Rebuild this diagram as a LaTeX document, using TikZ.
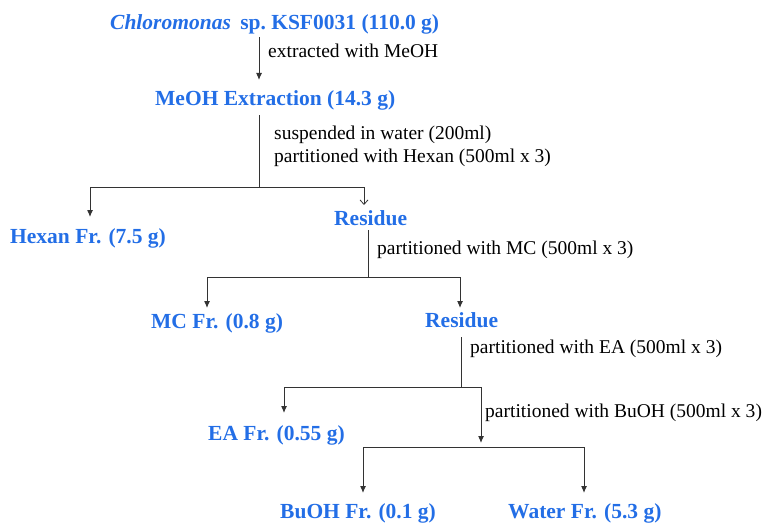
\documentclass[tikz,border=0pt]{standalone}
\usepackage{fontspec}
\setmainfont{Liberation Serif}
\usepackage{tikz}
\usetikzlibrary{arrows.meta, positioning}
\definecolor{fracblue}{RGB}{35,110,230}

\begin{document}
\begin{tikzpicture}[x=1pt, y=-1pt,
    frac/.style={anchor=base west, inner sep=0pt, text=fracblue, font=\fontsize{21.5}{24}\selectfont\bfseries},
    note/.style={anchor=base west, inner sep=0pt, align=left, font=\fontsize{19.5}{23.5}\selectfont},
    link/.style={draw=black!80, line width=1pt},
    arr/.style={link, -{Latex[length=7pt, width=6pt]}},
    openarr/.style={link, line width=0.8pt, -{Straight Barb[length=4.5pt, width=8pt]}}]
    \useasboundingbox (0,0) rectangle (767,524);

    % fractions
    \node[frac] (alga) at (110,29.5) {\textit{Chloromonas}\hspace{4pt} sp.\ KSF0031 (110.0 g)};
    \node[frac] (meoh) at (155,106) {MeOH Extraction (14.3 g)};
    \node[frac] (hexfr) at (10,243) {Hexan Fr. (7.5 g)};
    \node[frac] (res1) at (334,225) {Residue};
    \node[frac] (mcfr) at (151,328) {MC Fr. (0.8 g)};
    \node[frac] (res2) at (425,327) {Residue};
    \node[frac] (eafr) at (208,440) {EA Fr. (0.55 g)};
    \node[frac] (bufr) at (280,518) {BuOH Fr. (0.1 g)};
    \node[frac] (wafr) at (508,518) {Water Fr. (5.3 g)};

    % conditions
    \node[note] (n1) at (268,58) {extracted with MeOH};
    \node[note] (n2) at (274,139.5) {suspended in water (200ml)};
    \node[note] (n3) at (274,162.5) {partitioned with Hexan (500ml x 3)};
    \node[note] (n4) at (377,254) {partitioned with MC (500ml x 3)};
    \node[note] (n5) at (470,353) {partitioned with EA (500ml x 3)};
    \node[note] (n6) at (485,417) {partitioned with BuOH (500ml x 3)};

    % junctions
    \coordinate (a1) at (259,37);  \coordinate (a2) at (259,80);
    \coordinate (b1) at (259,115); \coordinate (b2) at (259,187);
    \coordinate (b3) at (90,217);  \coordinate (b4) at (364,205);
    \coordinate (c1) at (368,230); \coordinate (c2) at (368,277);
    \coordinate (c3) at (207,308); \coordinate (c4) at (460,308);
    \coordinate (d1) at (461,337); \coordinate (d2) at (461,387);
    \coordinate (d3) at (284,413); \coordinate (d4) at (481,443);
    \coordinate (e1) at (363,447); \coordinate (e2) at (584,447);
    \coordinate (e3) at (363,493); \coordinate (e4) at (584,493);

    \draw[arr] (a1) -- (a2);
    \draw[link] (b1) -- (b2);
    \draw[arr] (b2) -| (b3);
    \draw[openarr] (b2) -| (b4);
    \draw[link] (c1) -- (c2);
    \draw[arr] (c2) -| (c3);
    \draw[arr] (c2) -| (c4);
    \draw[link] (d1) -- (d2);
    \draw[arr] (d2) -| (d3);
    \draw[arr] (d2) -| (d4);
    \draw[link] (e1) -- (e2);
    \draw[arr] (e1) -- (e3);
    \draw[arr] (e2) -- (e4);
\end{tikzpicture}
\end{document}
